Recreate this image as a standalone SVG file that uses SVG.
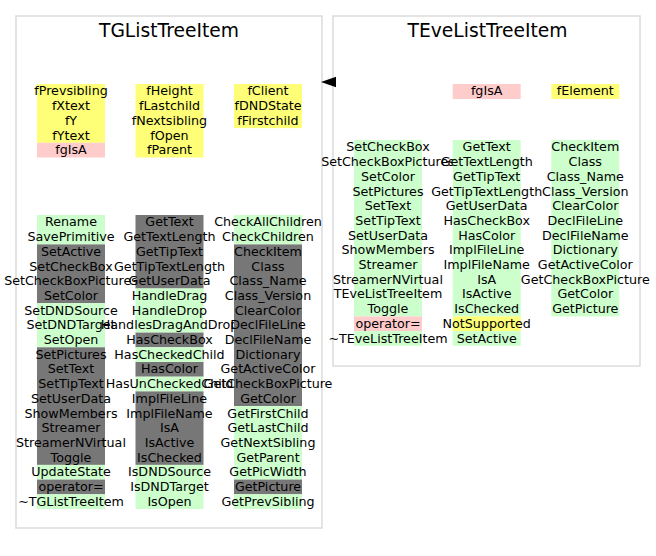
<svg xmlns="http://www.w3.org/2000/svg" width="656" height="556" viewBox="0 0 656 556">
<style>
.box{fill:#fff;stroke:#dcdcdc;stroke-width:1.5}
.title{font-family:"DejaVu Sans",sans-serif;font-size:18.7px;text-anchor:middle;fill:#000}
text{font-family:"DejaVu Sans",sans-serif;font-size:12.7px;text-anchor:middle;fill:#000}
.g{fill:#ccffcc}.d{fill:#777777}.y{fill:#ffff77}.p{fill:#ffcccc}
</style>
<rect width="656" height="556" fill="#fff"/>
<g id="TGListTreeItem">
<rect class="box" x="16" y="16" width="306" height="512"/>
<text class="title" x="169" y="37">TGListTreeItem</text>
<g id="TGListTreeItem-fields">
<rect class="y" x="37" y="84" width="68" height="58.8"/><rect class="p" x="37" y="142.8" width="68" height="14.7"/>
<text x="71" y="95.4">fPrevsibling</text><text x="71" y="110.1">fXtext</text><text x="71" y="124.8">fY</text><text x="71" y="139.5">fYtext</text><text x="71" y="154.2">fgIsA</text>
<rect class="y" x="135.5" y="84" width="68" height="73.5"/>
<text x="169.5" y="95.4">fHeight</text><text x="169.5" y="110.1">fLastchild</text><text x="169.5" y="124.8">fNextsibling</text><text x="169.5" y="139.5">fOpen</text><text x="169.5" y="154.2">fParent</text>
<rect class="y" x="234" y="84" width="68" height="44.1"/>
<text x="268" y="95.4">fClient</text><text x="268" y="110.1">fDNDState</text><text x="268" y="124.8">fFirstchild</text>
</g>
<g id="TGListTreeItem-methods">
<rect class="g" x="37" y="215" width="68" height="29.4"/>
<rect class="d" x="37" y="244.4" width="68" height="58.8"/>
<rect class="g" x="37" y="303.2" width="68" height="44.1"/>
<rect class="d" x="37" y="347.3" width="68" height="117.6"/>
<rect class="g" x="37" y="464.9" width="68" height="14.7"/>
<rect class="d" x="37" y="479.6" width="68" height="14.7"/>
<rect class="g" x="37" y="494.3" width="68" height="14.7"/>
<text x="71" y="226.4">Rename</text><text x="71" y="241.1">SavePrimitive</text><text x="71" y="255.8">SetActive</text><text x="71" y="270.5">SetCheckBox</text><text x="71" y="285.2">SetCheckBoxPictures</text><text x="71" y="299.9">SetColor</text><text x="71" y="314.6">SetDNDSource</text><text x="71" y="329.3">SetDNDTarget</text><text x="71" y="344">SetOpen</text><text x="71" y="358.7">SetPictures</text><text x="71" y="373.4">SetText</text><text x="71" y="388.1">SetTipText</text><text x="71" y="402.8">SetUserData</text><text x="71" y="417.5">ShowMembers</text><text x="71" y="432.2">Streamer</text><text x="71" y="446.9">StreamerNVirtual</text><text x="71" y="461.6">Toggle</text><text x="71" y="476.3">UpdateState</text><text x="71" y="491">operator=</text><text x="71" y="505.7">~TGListTreeItem</text>
<rect class="d" x="135.5" y="215" width="68" height="73.5"/>
<rect class="g" x="135.5" y="288.5" width="68" height="44.1"/>
<rect class="d" x="135.5" y="332.6" width="68" height="14.7"/>
<rect class="g" x="135.5" y="347.3" width="68" height="14.7"/>
<rect class="d" x="135.5" y="362" width="68" height="14.7"/>
<rect class="g" x="135.5" y="376.7" width="68" height="14.7"/>
<rect class="d" x="135.5" y="391.4" width="68" height="73.5"/>
<rect class="g" x="135.5" y="464.9" width="68" height="44.1"/>
<text x="169.5" y="226.4">GetText</text><text x="169.5" y="241.1">GetTextLength</text><text x="169.5" y="255.8">GetTipText</text><text x="169.5" y="270.5">GetTipTextLength</text><text x="169.5" y="285.2">GetUserData</text><text x="169.5" y="299.9">HandleDrag</text><text x="169.5" y="314.6">HandleDrop</text><text x="169.5" y="329.3">HandlesDragAndDrop</text><text x="169.5" y="344">HasCheckBox</text><text x="169.5" y="358.7">HasCheckedChild</text><text x="169.5" y="373.4">HasColor</text><text x="169.5" y="388.1">HasUnCheckedChild</text><text x="169.5" y="402.8">ImplFileLine</text><text x="169.5" y="417.5">ImplFileName</text><text x="169.5" y="432.2">IsA</text><text x="169.5" y="446.9">IsActive</text><text x="169.5" y="461.6">IsChecked</text><text x="169.5" y="476.3">IsDNDSource</text><text x="169.5" y="491">IsDNDTarget</text><text x="169.5" y="505.7">IsOpen</text>
<rect class="g" x="234" y="215" width="68" height="29.4"/>
<rect class="d" x="234" y="244.4" width="68" height="161.7"/>
<rect class="g" x="234" y="406.1" width="68" height="73.5"/>
<rect class="d" x="234" y="479.6" width="68" height="14.7"/>
<rect class="g" x="234" y="494.3" width="68" height="14.7"/>
<text x="268" y="226.4">CheckAllChildren</text><text x="268" y="241.1">CheckChildren</text><text x="268" y="255.8">CheckItem</text><text x="268" y="270.5">Class</text><text x="268" y="285.2">Class_Name</text><text x="268" y="299.9">Class_Version</text><text x="268" y="314.6">ClearColor</text><text x="268" y="329.3">DeclFileLine</text><text x="268" y="344">DeclFileName</text><text x="268" y="358.7">Dictionary</text><text x="268" y="373.4">GetActiveColor</text><text x="268" y="388.1">GetCheckBoxPicture</text><text x="268" y="402.8">GetColor</text><text x="268" y="417.5">GetFirstChild</text><text x="268" y="432.2">GetLastChild</text><text x="268" y="446.9">GetNextSibling</text><text x="268" y="461.6">GetParent</text><text x="268" y="476.3">GetPicWidth</text><text x="268" y="491">GetPicture</text><text x="268" y="505.7">GetPrevSibling</text>
</g>
</g>
<g id="TEveListTreeItem">
<rect class="box" x="333" y="16" width="307" height="350"/>
<text class="title" x="487.5" y="37">TEveListTreeItem</text>
<g id="TEveListTreeItem-fields">
<rect class="p" x="452.7" y="84" width="68" height="15"/>
<text x="486.7" y="95.4">fgIsA</text>
<rect class="y" x="551.3" y="84" width="68" height="15"/>
<text x="585.3" y="95.4">fElement</text>
</g>
<g id="TEveListTreeItem-methods">
<rect class="g" x="354" y="140" width="68" height="176.4"/>
<rect class="p" x="354" y="316.4" width="68" height="14.7"/>
<rect class="g" x="354" y="331.1" width="68" height="14.7"/>
<text x="388" y="151.4">SetCheckBox</text><text x="388" y="166.1">SetCheckBoxPictures</text><text x="388" y="180.8">SetColor</text><text x="388" y="195.5">SetPictures</text><text x="388" y="210.2">SetText</text><text x="388" y="224.9">SetTipText</text><text x="388" y="239.6">SetUserData</text><text x="388" y="254.3">ShowMembers</text><text x="388" y="269">Streamer</text><text x="388" y="283.7">StreamerNVirtual</text><text x="388" y="298.4">TEveListTreeItem</text><text x="388" y="313.1">Toggle</text><text x="388" y="327.8">operator=</text><text x="388" y="342.5">~TEveListTreeItem</text>
<rect class="g" x="452.7" y="140" width="68" height="176.4"/>
<rect class="y" x="452.7" y="316.4" width="68" height="14.7"/>
<rect class="g" x="452.7" y="331.1" width="68" height="14.7"/>
<text x="486.7" y="151.4">GetText</text><text x="486.7" y="166.1">GetTextLength</text><text x="486.7" y="180.8">GetTipText</text><text x="486.7" y="195.5">GetTipTextLength</text><text x="486.7" y="210.2">GetUserData</text><text x="486.7" y="224.9">HasCheckBox</text><text x="486.7" y="239.6">HasColor</text><text x="486.7" y="254.3">ImplFileLine</text><text x="486.7" y="269">ImplFileName</text><text x="486.7" y="283.7">IsA</text><text x="486.7" y="298.4">IsActive</text><text x="486.7" y="313.1">IsChecked</text><text x="486.7" y="327.8">NotSupported</text><text x="486.7" y="342.5">SetActive</text>
<rect class="g" x="551.3" y="140" width="68" height="176.4"/>
<text x="585.3" y="151.4">CheckItem</text><text x="585.3" y="166.1">Class</text><text x="585.3" y="180.8">Class_Name</text><text x="585.3" y="195.5">Class_Version</text><text x="585.3" y="210.2">ClearColor</text><text x="585.3" y="224.9">DeclFileLine</text><text x="585.3" y="239.6">DeclFileName</text><text x="585.3" y="254.3">Dictionary</text><text x="585.3" y="269">GetActiveColor</text><text x="585.3" y="283.7">GetCheckBoxPicture</text><text x="585.3" y="298.4">GetColor</text><text x="585.3" y="313.1">GetPicture</text>
</g>
</g>
<g id="connectors">
<polygon points="321,82 336,76.8 336,87.2" fill="#000"/>
</g>
</svg>
